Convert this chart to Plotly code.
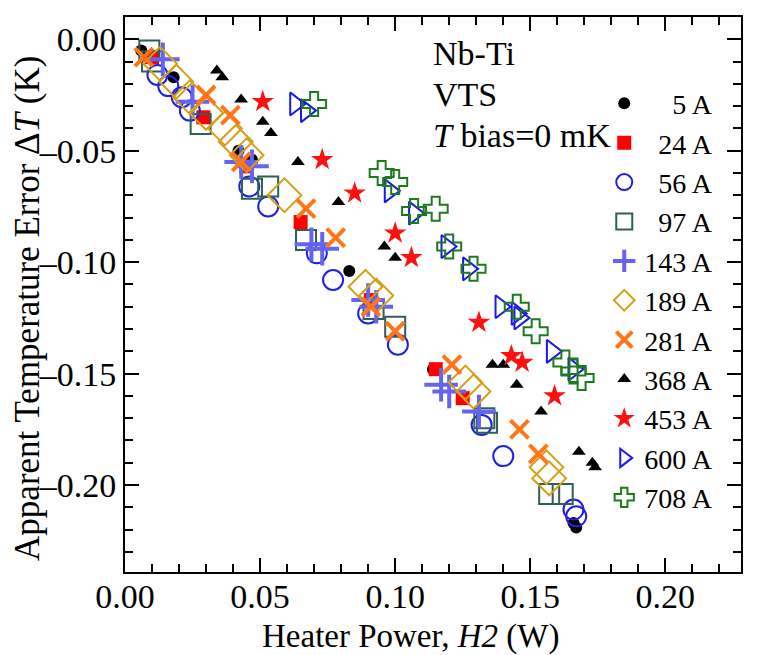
import plotly.graph_objects as go

labels = ["5 A", "24 A", "56 A", "97 A", "143 A", "189 A", "281 A", "368 A", "453 A", "600 A", "708 A"]

x_tickvals = [0.0, 0.05, 0.10, 0.15, 0.20]
x_ticktext = ["0.00", "0.05", "0.10", "0.15", "0.20"]
y_tickvals = [0.0, -0.05, -0.10, -0.15, -0.20]
y_ticktext = ["0.00", "–0.05", "–0.10", "–0.15", "–0.20"]

x_5 = [0.006, 0.018, 0.042, 0.047, 0.083, 0.114, 0.166, 0.167]
y_5 = [-0.005, -0.017, -0.050, -0.054, -0.104, -0.148, -0.217, -0.219]

x_24 = [0.010, 0.029, 0.045, 0.065, 0.091, 0.115, 0.125]
y_24 = [-0.008, -0.035, -0.057, -0.082, -0.117, -0.148, -0.161]

x_56 = [0.012, 0.016, 0.021, 0.024, 0.046, 0.053, 0.071, 0.077, 0.090, 0.101, 0.132, 0.140, 0.166, 0.167]
y_56 = [-0.016, -0.021, -0.026, -0.032, -0.066, -0.075, -0.096, -0.108, -0.123, -0.137, -0.173, -0.187, -0.211, -0.214]

x_97 = [0.009, 0.010, 0.028, 0.047, 0.053, 0.067, 0.092, 0.100, 0.133, 0.134, 0.157, 0.162]
y_97 = [-0.005, -0.010, -0.038, -0.067, -0.066, -0.090, -0.121, -0.129, -0.170, -0.172, -0.204, -0.204]

x_143 = [0.014, 0.025, 0.043, 0.047, 0.069, 0.073, 0.090, 0.093, 0.117, 0.120, 0.131]
y_143 = [-0.009, -0.028, -0.055, -0.057, -0.092, -0.094, -0.117, -0.120, -0.155, -0.158, -0.167]

x_189 = [0.013, 0.019, 0.024, 0.030, 0.037, 0.041, 0.045, 0.059, 0.089, 0.093, 0.126, 0.129, 0.156, 0.157]
y_189 = [-0.011, -0.019, -0.026, -0.033, -0.040, -0.046, -0.052, -0.070, -0.111, -0.115, -0.154, -0.158, -0.192, -0.197]

x_281 = [0.007, 0.030, 0.039, 0.043, 0.067, 0.078, 0.091, 0.100, 0.121, 0.146, 0.153]
y_281 = [-0.008, -0.025, -0.034, -0.055, -0.076, -0.089, -0.120, -0.131, -0.146, -0.175, -0.186]

x_368 = [0.034, 0.036, 0.043, 0.051, 0.054, 0.064, 0.079, 0.096, 0.100, 0.136, 0.140, 0.145, 0.154, 0.168, 0.173, 0.174]
y_368 = [-0.014, -0.017, -0.027, -0.037, -0.042, -0.055, -0.073, -0.093, -0.098, -0.146, -0.146, -0.155, -0.167, -0.185, -0.190, -0.192]

x_453 = [0.051, 0.073, 0.085, 0.100, 0.106, 0.131, 0.143, 0.147, 0.159]
y_453 = [-0.028, -0.054, -0.069, -0.087, -0.098, -0.127, -0.142, -0.145, -0.160]

x_600 = [0.063, 0.067, 0.098, 0.107, 0.119, 0.127, 0.139, 0.145, 0.146, 0.158, 0.166]
y_600 = [-0.029, -0.032, -0.068, -0.078, -0.093, -0.103, -0.120, -0.123, -0.125, -0.140, -0.148]

x_708 = [0.070, 0.095, 0.100, 0.107, 0.115, 0.120, 0.129, 0.145, 0.152, 0.163, 0.166, 0.169]
y_708 = [-0.029, -0.060, -0.064, -0.077, -0.076, -0.093, -0.103, -0.120, -0.131, -0.145, -0.149, -0.152]

xs = [x_5, x_24, x_56, x_97, x_143, x_189, x_281, x_368, x_453, x_600, x_708]
ys = [y_5, y_24, y_56, y_97, y_143, y_189, y_281, y_368, y_453, y_600, y_708]

styles = [
    dict(symbol="circle", color="#000000", size=12, open=False),
    dict(symbol="square", color="#ff0000", size=14, open=False),
    dict(symbol="circle-open", color="#2020e0", size=20, open=True),
    dict(symbol="square-open", color="#2f5f58", size=20, open=True),
    dict(symbol="cross-thin-open", color="#6464f0", size=24, open=True),
    dict(symbol="diamond-open", color="#d4a017", size=26, open=True),
    dict(symbol="x-thin-open", color="#ff7518", size=18, open=True),
    dict(symbol="triangle-up", color="#000000", size=12, open=False),
    dict(symbol="star", color="#ff1010", size=17, open=False),
    dict(symbol="triangle-right-open", color="#1a1ae6", size=20, open=True),
    dict(symbol="cross-open", color="#1e7a1e", size=20, open=True),
]

fig = go.Figure()
pad = "\u2007"
for i, (lab, x, y, st) in enumerate(zip(labels, xs, ys, styles)):
    npad = 3 - len(lab.split()[0])
    name = pad * npad + lab
    if st["open"]:
        lw = 4 if "thin" in st["symbol"] else 2
        marker = dict(symbol=st["symbol"], size=st["size"], color=st["color"],
                      line=dict(color=st["color"], width=lw))
    else:
        marker = dict(symbol=st["symbol"], size=st["size"], color=st["color"],
                      line=dict(width=0))
    fig.add_trace(go.Scatter(x=x, y=y, mode="markers", name=name, marker=marker))

serif = "Liberation Serif, Times New Roman, serif"

for yy, txt in [(-0.0063, "Nb-Ti"), (-0.0247, "VTS"), (-0.0432, "<i>T</i> bias=0 mK")]:
    fig.add_annotation(x=0.1133, y=yy, xref="x", yref="y", text=txt, showarrow=False,
                       xanchor="left", yanchor="middle",
                       font=dict(family=serif, size=34, color="black"))

# axis titles
fig.add_annotation(x=0.4634, y=0, xref="paper", yref="paper", yshift=-64,
                   text="Heater Power, <i>H2</i> (W)", showarrow=False,
                   xanchor="center", yanchor="middle",
                   font=dict(family=serif, size=33, color="black"))
fig.add_annotation(x=0, y=0.474, xref="paper", yref="paper", xshift=-97,
                   text="Apparent Temperature Error Δ<i>T</i> (K)", showarrow=False,
                   textangle=-90, xanchor="center", yanchor="middle",
                   font=dict(family=serif, size=35, color="black"))

axis_common = dict(
    showline=True, linecolor="black", linewidth=2, mirror="allticks",
    ticks="inside", ticklen=14, tickwidth=2, tickcolor="black",
    showgrid=False, zeroline=False,
    tickfont=dict(family=serif, size=34, color="black"),
)

fig.update_xaxes(range=[0, 0.228], tickvals=x_tickvals, ticktext=x_ticktext,
                 minor=dict(dtick=0.01, ticks="inside", ticklen=8, tickwidth=2, tickcolor="black"),
                 ticklabelstandoff=-7,
                 **axis_common)
fig.update_yaxes(range=[-0.239, 0.010], tickvals=y_tickvals, ticktext=y_ticktext,
                 minor=dict(dtick=0.01, ticks="inside", ticklen=8, tickwidth=2, tickcolor="black"),
                 **axis_common)

fig.update_layout(
    width=757, height=655,
    margin=dict(l=117, r=24, t=7, b=91),
    paper_bgcolor="white", plot_bgcolor="white",
    showlegend=True,
    legend=dict(x=0.778, y=0.889, xanchor="left", yanchor="top",
                bgcolor="rgba(0,0,0,0)", font=dict(family=serif, size=28, color="black"),
                tracegroupgap=0, itemwidth=30),
)

fig.write_html("out.html")
